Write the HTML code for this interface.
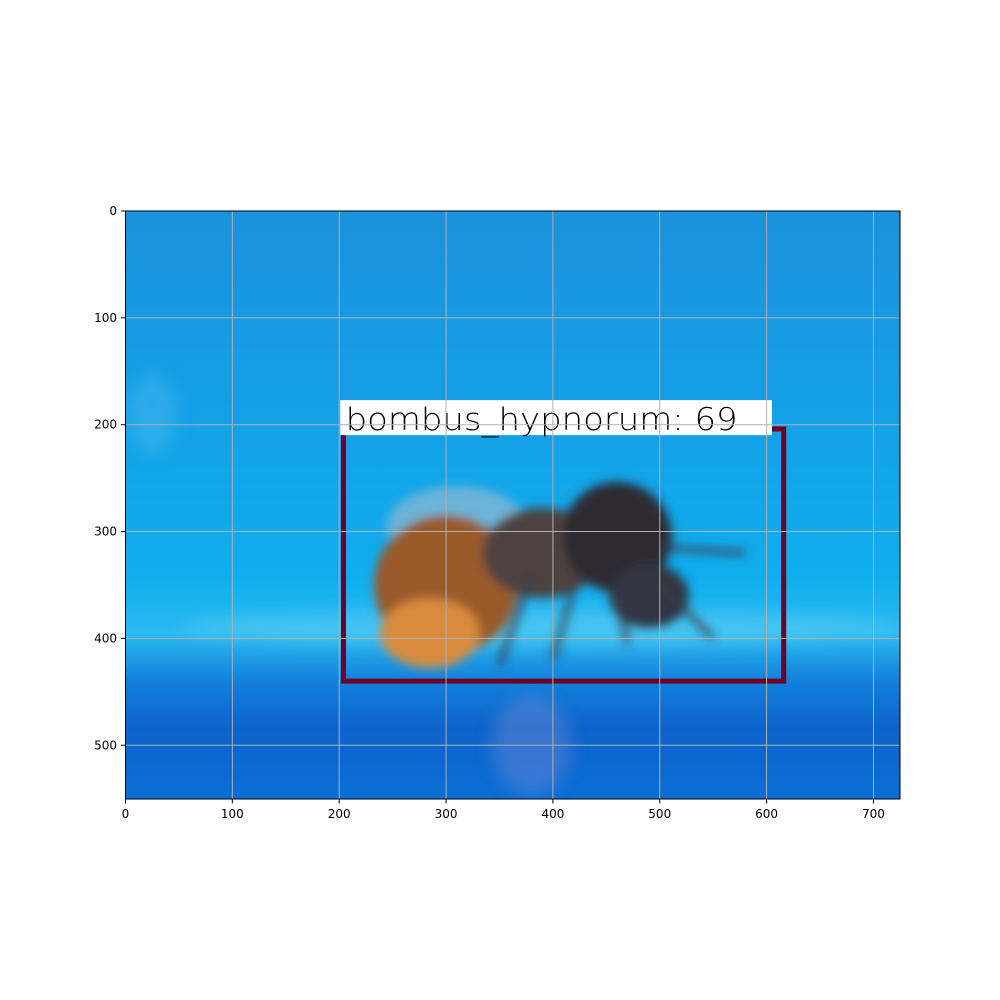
<!DOCTYPE html>
<html><head><meta charset="utf-8"><style>
html,body{margin:0;padding:0;background:#fff;}
svg{display:block;font-family:"DejaVu Sans","Liberation Sans",sans-serif;}
</style></head><body>
<svg id="chart" width="1000" height="1000">
<defs>
<linearGradient id="bg" x1="0" y1="0" x2="0" y2="1">
<stop offset="0" stop-color="#1b92dc"/>
<stop offset="0.35" stop-color="#14a0e6"/>
<stop offset="0.62" stop-color="#10aeee"/>
<stop offset="0.72" stop-color="#2bbaf0"/>
<stop offset="0.8" stop-color="#1280dc"/>
<stop offset="0.88" stop-color="#0d63cb"/>
<stop offset="1" stop-color="#0a6ed6"/>
</linearGradient>
<filter id="blur"><feGaussianBlur stdDeviation="8"/></filter>
<filter id="blur2"><feGaussianBlur stdDeviation="5"/></filter>
<clipPath id="clip"><rect x="125.5" y="211" width="774.5" height="588"/></clipPath>
</defs>
<g id="plot" clip-path="url(#clip)"></g>
<g id="axes"></g>
</svg>
<script>
const xTicks=[0,100,200,300,400,500,600,700];
const yTicks=[0,100,200,300,400,500];
const imgW=725, imgH=550;
const boxCoords=[204,204,616,440];
const labelText="bombus_hypnorum: 69";
const X0=125.5,Y0=211,S=1.0685;
const sx=v=>X0+v*S, sy=v=>Y0+v*S;
const NS="http://www.w3.org/2000/svg";
const plot=document.getElementById('plot'), axes=document.getElementById('axes');
function mk(tag,attrs,parent){const e=document.createElementNS(NS,tag);for(const k in attrs)e.setAttribute(k,attrs[k]);parent.appendChild(e);return e;}
const img=mk('g',{},plot);


mk('rect',{x:sx(0),y:sy(0),width:imgW*S,height:imgH*S,fill:'url(#bg)'},img);
const soft=mk('g',{filter:'url(#blur)'},img);
mk('ellipse',{cx:sx(390),cy:sy(390),rx:360,ry:18,fill:'#5fd0f5',opacity:0.5},soft);
mk('ellipse',{cx:sx(380),cy:sy(500),rx:40,ry:50,fill:'#8a90d8',opacity:0.35},soft);
mk('ellipse',{cx:sx(25),cy:sy(190),rx:25,ry:40,fill:'#3cb4ee',opacity:0.6},soft);
const bee=mk('g',{filter:'url(#blur2)'},img);
mk('ellipse',{cx:sx(310),cy:sy(295),rx:70,ry:40,fill:'#a9bccd',opacity:0.6},bee);
mk('ellipse',{cx:sx(300),cy:sy(350),rx:72,ry:70,fill:'#9a5a2c'},bee);
mk('ellipse',{cx:sx(285),cy:sy(395),rx:50,ry:35,fill:'#d98a3e'},bee);
mk('ellipse',{cx:sx(390),cy:sy(320),rx:60,ry:45,fill:'#4e4340'},bee);
mk('ellipse',{cx:sx(460),cy:sy(305),rx:55,ry:55,fill:'#2f2a30'},bee);
mk('ellipse',{cx:sx(490),cy:sy(360),rx:40,ry:32,fill:'#323642'},bee);
const legs=[[380,340,350,425],[420,350,400,420],[460,360,470,405],[500,350,550,400],[500,315,580,320]];
legs.forEach(l=>mk('line',{x1:sx(l[0]),y1:sy(l[1]),x2:sx(l[2]),y2:sy(l[3]),stroke:'#3a3a45','stroke-width':5},bee));
const box=mk('rect',{x:sx(boxCoords[0]),y:sy(boxCoords[1]),width:(boxCoords[2]-boxCoords[0])*S,height:(boxCoords[3]-boxCoords[1])*S,fill:'none',stroke:'#6e0025','stroke-width':5},plot);


const lb=mk('rect',{x:sx(201),y:sy(177),width:404*S,height:35,fill:'#fff'},plot);


const lt=mk('text',{x:sx(206),y:sy(205),'font-size':31,fill:'#000','font-family':'DejaVu Sans, sans-serif','font-weight':'200','textLength':392,'lengthAdjust':'spacingAndGlyphs'},plot);
lt.textContent=labelText;


xTicks.forEach(t=>{const g=mk('line',{x1:sx(t),x2:sx(t),y1:sy(0),y2:sy(imgH),stroke:'#b0b0b0','stroke-width':1},axes);

mk('line',{x1:sx(t),x2:sx(t),y1:799,y2:803.5,stroke:'#000'},axes);
const tx=mk('text',{x:sx(t),y:818,'font-size':12,'text-anchor':'middle'},axes);tx.textContent=t;
});
yTicks.forEach(t=>{const g=mk('line',{x1:sx(0),x2:900,y1:sy(t),y2:sy(t),stroke:'#b0b0b0','stroke-width':1},axes);

mk('line',{x1:121,x2:125.5,y1:sy(t),y2:sy(t),stroke:'#000'},axes);
const tx=mk('text',{x:117,y:sy(t)+4,'font-size':12,'text-anchor':'end'},axes);tx.textContent=t;
});
const fr=mk('rect',{x:125.5,y:211,width:774.5,height:588,fill:'none',stroke:'#000','stroke-width':1},axes);

</script>
</body></html>
